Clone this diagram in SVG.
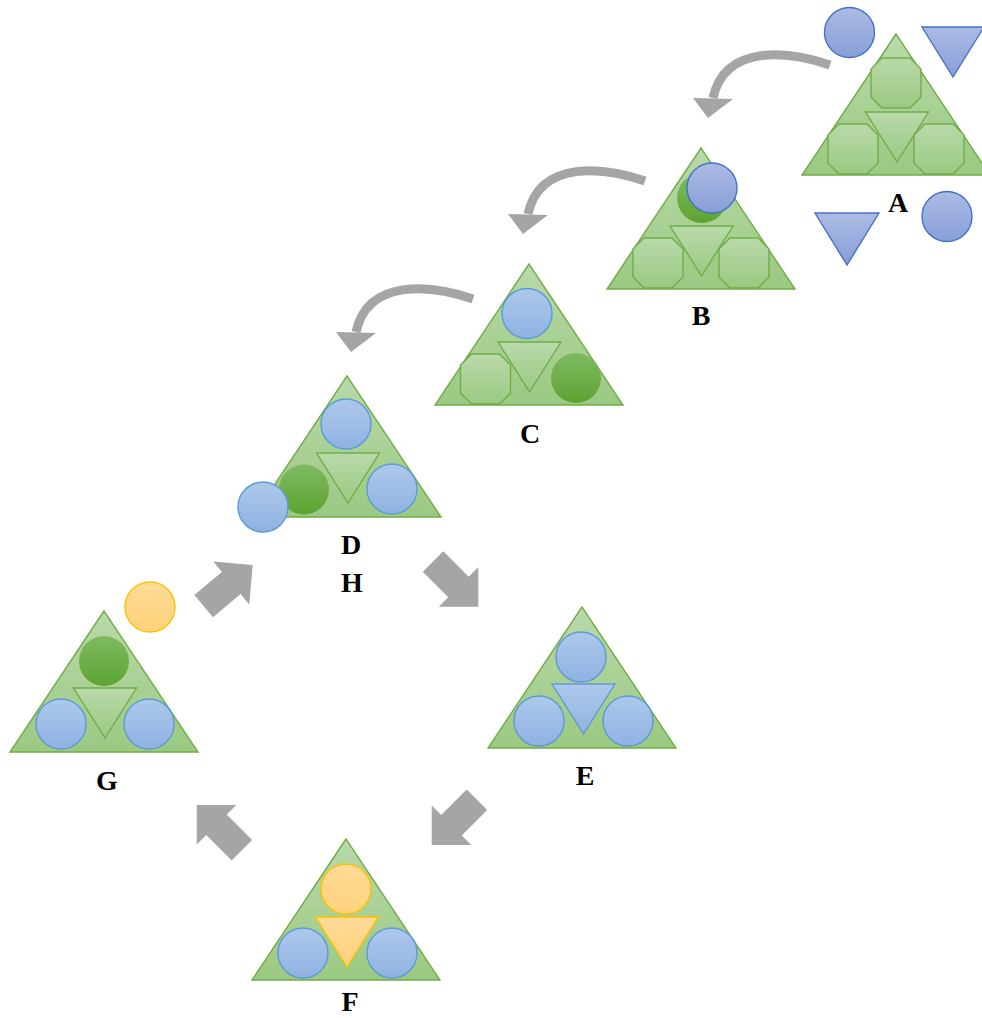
<svg xmlns="http://www.w3.org/2000/svg" xmlns:xlink="http://www.w3.org/1999/xlink" width="982" height="1018" viewBox="0 0 982 1018">
<defs>
<linearGradient id="gGreen" x1="0" y1="0" x2="0" y2="1"><stop offset="0" stop-color="#b9d9aa"/><stop offset="1" stop-color="#9bc982"/></linearGradient>
<linearGradient id="gDark" x1="0" y1="0" x2="0" y2="1"><stop offset="0" stop-color="#80ba62"/><stop offset="1" stop-color="#5da331"/></linearGradient>
<linearGradient id="gBlue" x1="0" y1="0" x2="0" y2="1"><stop offset="0" stop-color="#aec8ec"/><stop offset="1" stop-color="#8fb2e1"/></linearGradient>
<linearGradient id="gPurple" x1="0" y1="0" x2="0" y2="1"><stop offset="0" stop-color="#acbbe4"/><stop offset="1" stop-color="#879ed7"/></linearGradient>
<linearGradient id="gYellow" x1="0" y1="0" x2="0" y2="1"><stop offset="0" stop-color="#ffdb98"/><stop offset="1" stop-color="#ffd17a"/></linearGradient>
<polygon id="oct" points="-14,-25 14,-25 25,-14 25,14 14,25 -14,25 -25,14 -25,-14"/>
<polygon id="bigTri" points="0,0 -94,141 94,141"/>
<polygon id="inTri" points="-31.5,0 31.5,0 0,50"/>
<path id="curveArrow" d="M0 0 C-40 -14 -105 -22 -117 33"/>
<polygon id="curveHead" points="-137,33 -97,34 -122,53"/>
<polygon id="blockArrow" points="-64,-14.5 -28,-14.5 -28,-28 0,0 -28,28 -28,14.5 -64,14.5"/>
</defs>
<style>
.tri{fill:url(#gGreen);stroke:#70ad47;stroke-width:1.4}
.inner{fill:url(#gGreen);stroke:#70ad47;stroke-width:1.4}
.dark{fill:url(#gDark);stroke:none}
.blue{fill:url(#gBlue);stroke:#5b9bd5;stroke-width:1.4}
.purple{fill:url(#gPurple);stroke:#4472c4;stroke-width:1.4}
.yellow{fill:url(#gYellow);stroke:#ffc000;stroke-width:1.4}
.arc{fill:none;stroke:#a5a5a5;stroke-width:9}
.head{fill:#a5a5a5;stroke:none}
.lbl{font-family:"Liberation Serif","Times New Roman",serif;font-weight:bold;font-size:28px;fill:#000;text-anchor:middle}
</style>
<rect width="982" height="1018" fill="#ffffff"/>

<g id="connectors">
<g transform="translate(830,65)"><use xlink:href="#curveArrow" class="arc"/><use xlink:href="#curveHead" class="head"/></g>
<g transform="translate(645,181)"><use xlink:href="#curveArrow" class="arc"/><use xlink:href="#curveHead" class="head"/></g>
<g transform="translate(473,299)"><use xlink:href="#curveArrow" class="arc"/><use xlink:href="#curveHead" class="head"/></g>
<use xlink:href="#blockArrow" class="head" transform="translate(252.7,565) rotate(-40)"/>
<use xlink:href="#blockArrow" class="head" transform="translate(478.3,606.7) rotate(45)"/>
<use xlink:href="#blockArrow" class="head" transform="translate(431.7,845) rotate(135)"/>
<use xlink:href="#blockArrow" class="head" transform="translate(196.7,805) rotate(-135)"/>
</g>

<g id="nodeA">
<use xlink:href="#bigTri" class="tri" transform="translate(896,34)"/>
<use xlink:href="#oct" class="inner" transform="translate(896,83)"/>
<use xlink:href="#inTri" class="inner" transform="translate(897,112)"/>
<use xlink:href="#oct" class="inner" transform="translate(853,149)"/>
<use xlink:href="#oct" class="inner" transform="translate(939,149)"/>
<circle class="purple" cx="849.5" cy="32.5" r="25"/>
<polygon class="purple" points="922,27 984,27 953,77"/>
<polygon class="purple" points="815,213 879,213 847,265"/>
<circle class="purple" cx="947" cy="216.5" r="25"/>
<text class="lbl" x="898" y="212">A</text>
</g>

<g id="nodeB">
<use xlink:href="#bigTri" class="tri" transform="translate(701,148)"/>
<use xlink:href="#inTri" class="inner" transform="translate(701.5,226)"/>
<use xlink:href="#oct" class="inner" transform="translate(658,263)"/>
<use xlink:href="#oct" class="inner" transform="translate(744,263)"/>
<circle class="dark" cx="702" cy="198" r="25"/>
<circle class="purple" cx="712" cy="188" r="25"/>
<text class="lbl" x="701" y="325">B</text>
</g>

<g id="nodeC">
<use xlink:href="#bigTri" class="tri" transform="translate(529,264)"/>
<circle class="blue" cx="527" cy="313.5" r="25"/>
<use xlink:href="#inTri" class="inner" transform="translate(529.5,342)"/>
<use xlink:href="#oct" class="inner" transform="translate(485.5,379)"/>
<circle class="dark" cx="576" cy="378" r="25"/>
<text class="lbl" x="530" y="443">C</text>
</g>

<g id="nodeD">
<use xlink:href="#bigTri" class="tri" transform="translate(347,376)"/>
<circle class="blue" cx="346" cy="424" r="25"/>
<use xlink:href="#inTri" class="inner" transform="translate(348,453)"/>
<circle class="dark" cx="304" cy="489.5" r="25"/>
<circle class="blue" cx="392" cy="489" r="25"/>
<circle class="blue" cx="263" cy="507" r="25"/>
<text class="lbl" x="351" y="554">D</text>
<text class="lbl" x="352" y="592">H</text>
</g>

<g id="nodeE">
<use xlink:href="#bigTri" class="tri" transform="translate(582,607)"/>
<circle class="blue" cx="581" cy="657" r="25"/>
<use xlink:href="#inTri" class="blue" transform="translate(583.5,684)"/>
<circle class="blue" cx="539" cy="721" r="25"/>
<circle class="blue" cx="628" cy="721" r="25"/>
<text class="lbl" x="585" y="785">E</text>
</g>

<g id="nodeF">
<use xlink:href="#bigTri" class="tri" transform="translate(346,839)"/>
<circle class="yellow" cx="346" cy="889" r="25"/>
<use xlink:href="#inTri" class="yellow" transform="translate(347,917)"/>
<circle class="blue" cx="303" cy="953" r="25"/>
<circle class="blue" cx="392" cy="953" r="25"/>
<text class="lbl" x="350" y="1011">F</text>
</g>

<g id="nodeG">
<use xlink:href="#bigTri" class="tri" transform="translate(104,611)"/>
<circle class="dark" cx="104" cy="661" r="25"/>
<use xlink:href="#inTri" class="inner" transform="translate(105,688)"/>
<circle class="blue" cx="61" cy="724" r="25"/>
<circle class="blue" cx="149" cy="724" r="25"/>
<circle class="yellow" cx="150" cy="607" r="25"/>
<text class="lbl" x="107" y="790">G</text>
</g>
</svg>
